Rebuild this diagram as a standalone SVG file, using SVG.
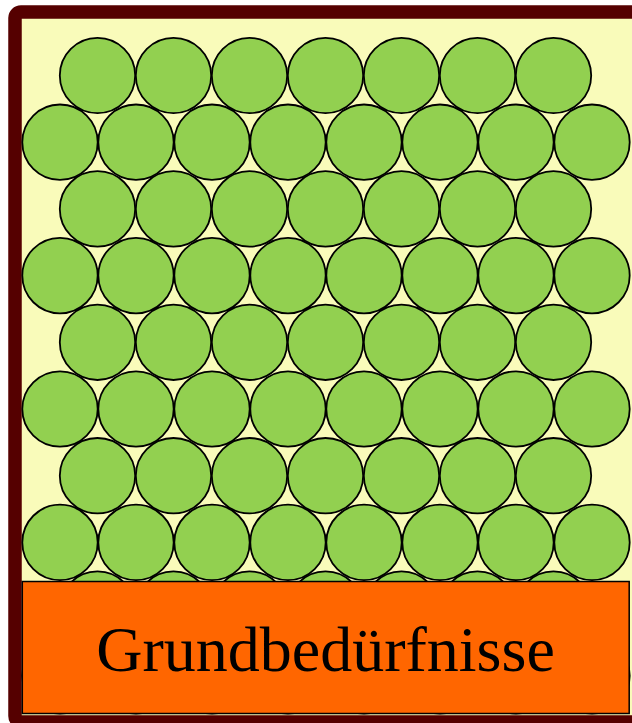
<svg xmlns="http://www.w3.org/2000/svg" width="632" height="723" viewBox="0 0 632 723">
<defs>
<style>
.c{fill:#92D050;stroke:#000;stroke-width:1.8}
.frame{fill:#F9FBBA;stroke:#550000;stroke-width:13.5}
.base{fill:#FF6600;stroke:#000;stroke-width:1.5}
.t{font-family:"Liberation Serif","Times New Roman",serif;font-size:64px;fill:#000}
</style>
<circle id="ca" class="c" r="37.7"/>
</defs>
<g id="frame"><rect class="frame" x="15" y="12" width="640" height="710" rx="6"/></g>
<g id="circles">
<g id="row0"><use href="#ca" x="97.5" y="75.5"/><use href="#ca" x="173.5" y="75.5"/><use href="#ca" x="249.5" y="75.5"/><use href="#ca" x="325.5" y="75.5"/><use href="#ca" x="401.5" y="75.5"/><use href="#ca" x="477.5" y="75.5"/><use href="#ca" x="553.5" y="75.5"/></g>
<g id="row1"><use href="#ca" x="60" y="142.2"/><use href="#ca" x="136" y="142.2"/><use href="#ca" x="212" y="142.2"/><use href="#ca" x="288" y="142.2"/><use href="#ca" x="364" y="142.2"/><use href="#ca" x="440" y="142.2"/><use href="#ca" x="516" y="142.2"/><use href="#ca" x="592" y="142.2"/></g>
<g id="row2"><use href="#ca" x="97.5" y="208.9"/><use href="#ca" x="173.5" y="208.9"/><use href="#ca" x="249.5" y="208.9"/><use href="#ca" x="325.5" y="208.9"/><use href="#ca" x="401.5" y="208.9"/><use href="#ca" x="477.5" y="208.9"/><use href="#ca" x="553.5" y="208.9"/></g>
<g id="row3"><use href="#ca" x="60" y="275.6"/><use href="#ca" x="136" y="275.6"/><use href="#ca" x="212" y="275.6"/><use href="#ca" x="288" y="275.6"/><use href="#ca" x="364" y="275.6"/><use href="#ca" x="440" y="275.6"/><use href="#ca" x="516" y="275.6"/><use href="#ca" x="592" y="275.6"/></g>
<g id="row4"><use href="#ca" x="97.5" y="342.3"/><use href="#ca" x="173.5" y="342.3"/><use href="#ca" x="249.5" y="342.3"/><use href="#ca" x="325.5" y="342.3"/><use href="#ca" x="401.5" y="342.3"/><use href="#ca" x="477.5" y="342.3"/><use href="#ca" x="553.5" y="342.3"/></g>
<g id="row5"><use href="#ca" x="60" y="409"/><use href="#ca" x="136" y="409"/><use href="#ca" x="212" y="409"/><use href="#ca" x="288" y="409"/><use href="#ca" x="364" y="409"/><use href="#ca" x="440" y="409"/><use href="#ca" x="516" y="409"/><use href="#ca" x="592" y="409"/></g>
<g id="row6"><use href="#ca" x="97.5" y="475.7"/><use href="#ca" x="173.5" y="475.7"/><use href="#ca" x="249.5" y="475.7"/><use href="#ca" x="325.5" y="475.7"/><use href="#ca" x="401.5" y="475.7"/><use href="#ca" x="477.5" y="475.7"/><use href="#ca" x="553.5" y="475.7"/></g>
<g id="row7"><use href="#ca" x="60" y="542.4"/><use href="#ca" x="136" y="542.4"/><use href="#ca" x="212" y="542.4"/><use href="#ca" x="288" y="542.4"/><use href="#ca" x="364" y="542.4"/><use href="#ca" x="440" y="542.4"/><use href="#ca" x="516" y="542.4"/><use href="#ca" x="592" y="542.4"/></g>
<g id="row8"><use href="#ca" x="97.5" y="609.1"/><use href="#ca" x="173.5" y="609.1"/><use href="#ca" x="249.5" y="609.1"/><use href="#ca" x="325.5" y="609.1"/><use href="#ca" x="401.5" y="609.1"/><use href="#ca" x="477.5" y="609.1"/><use href="#ca" x="553.5" y="609.1"/></g>
<g id="row9"><use href="#ca" x="60" y="675.8"/><use href="#ca" x="136" y="675.8"/><use href="#ca" x="212" y="675.8"/><use href="#ca" x="288" y="675.8"/><use href="#ca" x="364" y="675.8"/><use href="#ca" x="440" y="675.8"/><use href="#ca" x="516" y="675.8"/><use href="#ca" x="592" y="675.8"/></g>
</g>
<g id="grundbeduerfnisse">
<rect class="base" x="22.3" y="581.5" width="606.9" height="132"/>
<text class="t" x="325.5" y="671" text-anchor="middle">Grundbedürfnisse</text>
</g>
</svg>
